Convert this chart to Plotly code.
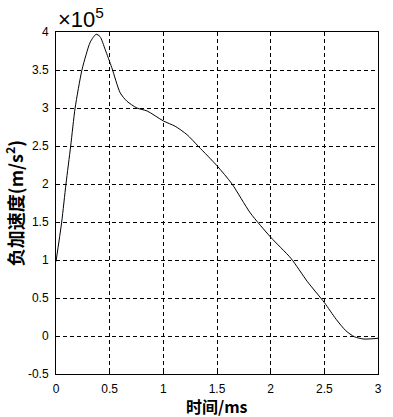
import plotly.graph_objects as go

time_ms = [0.0, 0.053, 0.093, 0.137, 0.178, 0.24, 0.28, 0.32, 0.374, 0.41, 0.458, 0.52, 0.598,
           0.66, 0.754, 0.85, 1.0, 1.11, 1.22, 1.33, 1.50, 1.64, 1.81, 2.0, 2.19, 2.34,
           2.50, 2.61, 2.70, 2.78, 2.87, 3.0]
accel_1e5 = [0.98, 1.5, 2.0, 2.5, 3.0, 3.49, 3.70, 3.87, 3.97, 3.94, 3.77, 3.53, 3.20,
             3.09, 3.0, 2.96, 2.83, 2.76, 2.65, 2.49, 2.24, 2.0, 1.62, 1.30, 1.02, 0.72,
             0.44, 0.22, 0.07, -0.01, -0.04, -0.03]

x_ticks = [0, 0.5, 1, 1.5, 2, 2.5, 3]
x_tick_labels = ["0", "0.5", "1", "1.5", "2", "2.5", "3"]
y_ticks = [-0.5, 0, 0.5, 1, 1.5, 2, 2.5, 3, 3.5, 4]
y_tick_labels = ["-0.5", "0", "0.5", "1", "1.5", "2", "2.5", "3", "3.5", "4"]

fig = go.Figure()
fig.add_trace(go.Scatter(x=time_ms, y=accel_1e5, mode="lines",
                         line=dict(color="black", width=1, shape="spline", smoothing=0.7),
                         showlegend=False))

axis_common = dict(showline=True, linecolor="black", linewidth=1, mirror=True,
                   showgrid=True, gridcolor="black", gridwidth=1, griddash="4px,3px",
                   zeroline=False, ticks="inside", ticklen=4, tickcolor="black",
                   automargin=False, ticklabelstandoff=4,
                   tickfont=dict(family="Liberation Sans, Arial", size=12, color="black"))

fig.update_xaxes(range=[0, 3], tickvals=x_ticks, ticktext=x_tick_labels, **axis_common)
fig.update_yaxes(range=[-0.5, 4], tickvals=y_ticks, ticktext=y_tick_labels,
                 title=dict(text="<b>负加速度(m/s<sup>2</sup>)</b>",
                            font=dict(family="Noto Sans CJK SC", size=18, color="black"),
                            standoff=2),
                 **axis_common)

fig.add_annotation(text="<b>时间/ms</b>", xref="paper", yref="paper", x=0.5, y=-0.093,
                   xanchor="center", yanchor="middle", showarrow=False,
                   font=dict(family="Noto Sans CJK SC", size=16, color="black"))

fig.add_annotation(text="×10<sup>5</sup>", xref="paper", yref="paper", x=0.0, y=1.0,
                   xanchor="left", yanchor="bottom", yshift=-2, showarrow=False,
                   font=dict(family="Liberation Sans, Arial", size=22, color="black"))

fig.update_layout(width=393, height=417, plot_bgcolor="white", paper_bgcolor="white",
                  margin=dict(l=56, r=15, t=32, b=43))

fig.write_html("out.html", config={"displayModeBar": False},
               post_script="document.body.style.margin='0px';")
